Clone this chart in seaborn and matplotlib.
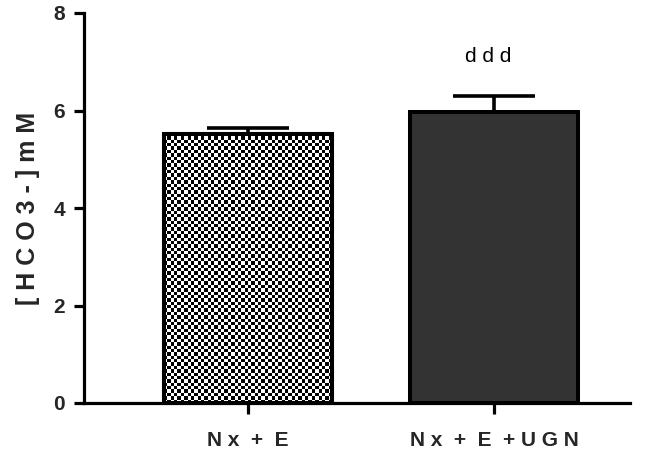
import numpy as np
import pandas as pd
import matplotlib
matplotlib.use("Agg")
import matplotlib.pyplot as plt
import seaborn as sns

groups = ["N x  +  E", "N x  +  E  + U G N"]
means = [5.52, 5.97]
errors = [0.12, 0.32]
fills = ["#ffffff", "#333333"]
yticks = [0, 2, 4, 6, 8]
annotation = "d d d"

sns.set_theme(style="ticks")
plt.rcParams["font.family"] = ["Liberation Sans", "DejaVu Sans"]

df = pd.DataFrame({"group": groups, "mean": means})

fig = plt.figure(figsize=(6.49, 4.5), dpi=100)
ax = fig.add_axes([84 / 649, 1 - 403 / 450, (630 - 84) / 649, (403 - 13) / 450])

sns.barplot(data=df, x="group", y="mean", hue="group", palette=fills,
            width=0.68, errorbar=None, legend=False, ax=ax,
            edgecolor="black", linewidth=2.9, zorder=2)

# checkerboard texture for the first bar, clipped to the bar outline
bar = ax.patches[0]
x0, y0 = bar.get_x(), bar.get_y()
w, h = bar.get_width(), bar.get_height()
nx, ny = 50, 80
checker = (np.add.outer(np.arange(ny), np.arange(nx)) % 2).astype(float)
img = ax.imshow(checker, cmap="gray", interpolation="nearest", aspect="auto",
                extent=[x0, x0 + w, y0, y0 + h], zorder=2.5)
img.set_clip_path(bar)
outline = plt.Rectangle((x0, y0), w, h, fill=False, edgecolor="black",
                        linewidth=2.9, zorder=3)
ax.add_patch(outline)

# upward-only error bars
xs = np.arange(len(groups))
ax.errorbar(xs, means, yerr=[np.zeros(len(errors)), errors], fmt="none",
            ecolor="black", elinewidth=2.6, capsize=29.5, capthick=2.6, zorder=1)

ax.text(xs[1] - 0.025, 7.1, annotation, ha="center", va="center", fontsize=15,
        color="black")

ax.set_xlim(-0.667, 1.553)
ax.set_ylim(0, 8)
ax.set_yticks(yticks)
ax.set_yticklabels([str(t) for t in yticks], fontsize=15, fontweight="bold")
ax.set_xticks(xs)
ax.set_xticklabels(groups, fontsize=15, fontweight="bold")
ax.set_xlabel("")
ax.set_ylabel("[ H C O 3 - ] m M", fontsize=18, fontweight="bold", labelpad=10)

for side in ["top", "right"]:
    ax.spines[side].set_visible(False)
for side in ["left", "bottom"]:
    ax.spines[side].set_linewidth(2.3)
    ax.spines[side].set_color("black")
ax.tick_params(axis="y", length=7.5, width=2.3, color="black", pad=6)
ax.tick_params(axis="x", length=8, width=2.3, color="black", pad=12)

fig.savefig("out.png", dpi=100)
